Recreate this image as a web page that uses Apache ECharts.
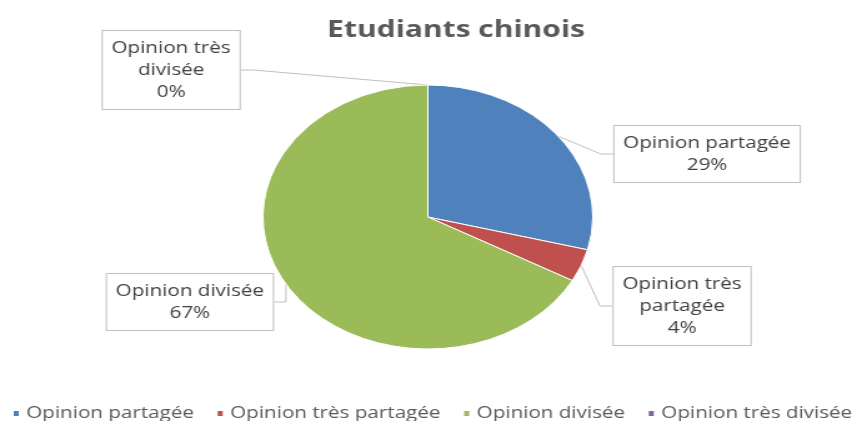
<!DOCTYPE html>
<html>
<head>
<meta charset="utf-8">
<script src="https://cdn.jsdelivr.net/npm/echarts@6/dist/echarts.min.js"></script>
<style>
  html, body { margin: 0; padding: 0; background: #fff; overflow: hidden; }
  /* the reference is stretched horizontally, so the chart is drawn narrow and widened */
  #main { width: 686px; height: 421px; transform: scaleX(1.2493); transform-origin: 0 0; }
</style>
</head>
<body>
<div id="main"></div>
<script>
// données
var categories = ['Opinion partagée', 'Opinion très partagée', 'Opinion divisée', 'Opinion très divisée'];
var values = [29, 4, 67, 0];
var labelTexts = ['Opinion partagée', 'Opinion très\npartagée', 'Opinion divisée', 'Opinion très\ndivisée'];
var colors = ['#4F81BD', '#C0504D', '#9BBB59', '#8064A2'];

// centres des étiquettes (repère non étiré)
var labelPos = [[566, 154], [546, 306], [152, 302], [137, 70]];

var chart = echarts.init(document.getElementById('main'));

var option = {
    animation: false,
    color: colors,
    title: {
        text: 'Etudiants chinois',
        left: 360,
        textAlign: 'center',
        top: 13,
        textStyle: {
            fontFamily: 'Open Sans',
            fontSize: 24,
            fontWeight: 'bold',
            color: '#595959'
        }
    },
    legend: {
        bottom: -1,
        left: 9,
        width: 700,
        padding: 0,
        icon: 'rect',
        itemWidth: 6,
        itemHeight: 7,
        itemGap: 17,
        textStyle: { fontFamily: 'Open Sans', fontSize: 16.5, color: '#595959' },
        data: categories
    },
    series: [{
        type: 'pie',
        center: [342.5, 217],
        radius: 132,
        startAngle: 90,
        clockwise: true,
        itemStyle: { borderColor: '#fff', borderWidth: 1 },
        label: {
            show: true,
            formatter: function (p) {
                return labelTexts[p.dataIndex] + '\n' + values[p.dataIndex] + '%';
            },
            fontFamily: 'Open Sans',
            fontSize: 16.5,
            lineHeight: 22,
            color: '#404040',
            backgroundColor: '#fff',
            borderColor: '#BFBFBF',
            borderWidth: 1,
            padding: [6, 7, 6, 7]
        },
        labelLine: {
            show: true,
            length: 10,
            length2: 10,
            lineStyle: { color: '#BFBFBF', width: 1 }
        },
        labelLayout: function (params) {
            var pos = labelPos[params.dataIndex];
            return { x: pos[0], y: pos[1], align: 'center', verticalAlign: 'middle' };
        },
        data: categories.map(function (name, i) {
            return { name: name, value: values[i] };
        })
    }]
};

chart.setOption(option);
</script>
</body>
</html>
